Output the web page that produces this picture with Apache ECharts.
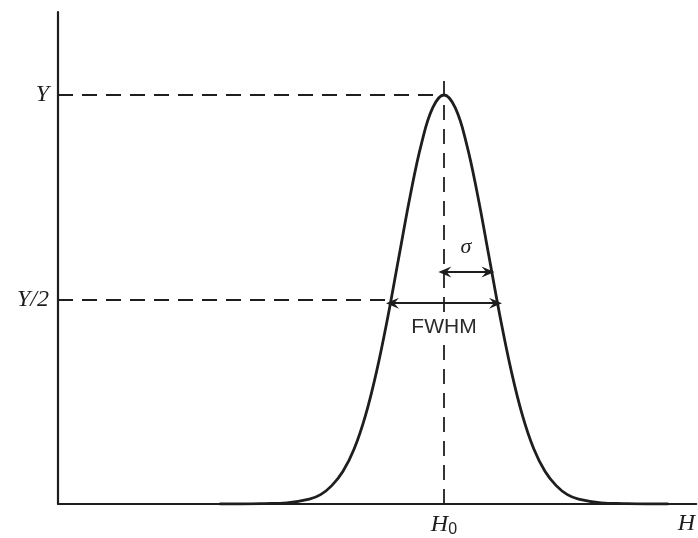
<!DOCTYPE html>
<html>
<head>
<meta charset="utf-8">
<style>
  html, body { margin: 0; padding: 0; background: #fff; }
  #chart { width: 698px; height: 538px; }
</style>
<script src="https://cdn.jsdelivr.net/npm/echarts@6/dist/echarts.min.js"></script>
</head>
<body>
<div id="chart"></div>
<script>
// Field H measured in units of sigma from the line centre H0 (H0 = 0).
const hValues = [-5.0, -4.5, -4.0, -3.5, -3.0, -2.75, -2.5, -2.25, -2.0, -1.75, -1.5, -1.25,
  -1.0, -0.75, -0.5, -0.25, 0, 0.25, 0.5, 0.75, 1.0, 1.25, 1.5, 1.75, 2.0, 2.25, 2.5, 2.75,
  3.0, 3.5, 4.0, 4.5, 5.0];
// Absorption signal relative to the peak height Y.
const signal = [0, 0, 0.001, 0.003, 0.012, 0.023, 0.045, 0.08, 0.135, 0.216, 0.325, 0.458,
  0.607, 0.755, 0.882, 0.969, 1.0, 0.969, 0.882, 0.755, 0.607, 0.458, 0.325, 0.216,
  0.135, 0.08, 0.045, 0.023, 0.012, 0.003, 0.001, 0, 0];

// Levels and widths marked on the plot.
const peakLevel = 1.0;          // Y
const halfLevel = 0.5;          // Y/2
const halfWidth = 1.1774;       // half of the FWHM, in sigma
const sigmaWidth = 1.0;         // sigma
const yTickValues = [0.5, 1.0];
const yTickLabels = ['Y/2', 'Y'];
const xTickValues = [0, 5.4];
const xTickLabels = ['{i|H}{s|0}', '{i|H}'];

const ink = '#1e1e1e';
const dash = [15, 9];
const arrowHead = 'path://M5,0 L10,11 L5,7 L0,11 Z';

const chart = echarts.init(document.getElementById('chart'), null, { renderer: 'canvas' });

chart.setOption({
  animation: false,
  backgroundColor: '#ffffff',
  grid: { left: 58, right: 0, top: 12, bottom: 34, containLabel: false },
  xAxis: {
    type: 'value', min: -8.6, max: 5.62,
    splitLine: { show: false },
    axisLine: { show: true, onZero: false, lineStyle: { color: ink, width: 2.2 } },
    axisTick: { show: false },
    axisLabel: {
      customValues: xTickValues,
      margin: 8,
      formatter: function (v) {
        const i = xTickValues.findIndex(function (t) { return Math.abs(t - v) < 1e-6; });
        return i >= 0 ? xTickLabels[i] : '';
      },
      rich: {
        i: { fontFamily: 'Liberation Serif', fontStyle: 'italic', fontSize: 24, color: ink },
        s: { fontFamily: 'Liberation Sans', fontSize: 16, color: ink, padding: [10, 0, 0, 0] }
      }
    }
  },
  yAxis: {
    type: 'value', min: 0, max: 1.203,
    splitLine: { show: false },
    axisLine: { show: true, onZero: false, lineStyle: { color: ink, width: 2.2 } },
    axisTick: { show: false },
    axisLabel: {
      customValues: yTickValues,
      margin: 9,
      fontFamily: 'Liberation Serif', fontStyle: 'italic', fontSize: 24, color: ink,
      formatter: function (v) {
        const i = yTickValues.findIndex(function (t) { return Math.abs(t - v) < 1e-6; });
        return i >= 0 ? yTickLabels[i] : '';
      }
    }
  },
  series: [
    {
      name: 'line',
      type: 'line',
      data: hValues.map(function (h, i) { return [h, signal[i]]; }),
      smooth: 0.4,
      showSymbol: false,
      lineStyle: { color: ink, width: 2.8 },
      z: 5
    },
    {
      // dashed guides: peak level, half level and the centre line
      name: 'guides',
      type: 'line',
      data: [],
      markLine: {
        silent: true,
        symbol: ['none', 'none'],
        label: { show: false },
        lineStyle: { color: ink, width: 1.8, type: dash },
        data: [
          [{ coord: [-8.6, peakLevel] }, { coord: [0, peakLevel] }],
          [{ coord: [-8.6, halfLevel] }, { coord: [-halfWidth, halfLevel] }],
          [{ coord: [0, 0] }, { coord: [0, 1.04] }]
        ]
      }
    },
    {
      // double-headed width arrows
      name: 'widths',
      type: 'line',
      data: [],
      markLine: {
        silent: true,
        symbol: [arrowHead, arrowHead],
        symbolSize: [11, 13],
        label: { show: false },
        lineStyle: { color: ink, width: 2, type: 'solid' },
        itemStyle: { color: ink },
        data: [
          [{ coord: [-halfWidth + 0.03, 0.491] }, { coord: [halfWidth - 0.03, 0.491] }],
          [{ coord: [0.02, 0.567] }, { coord: [sigmaWidth - 0.02, 0.567] }]
        ]
      }
    },
    {
      name: 'labels',
      type: 'scatter',
      symbolSize: 0,
      silent: true,
      z: 10,
      itemStyle: { color: ink, opacity: 1 },
      data: [
        { value: [0.49, 0.628], label: { formatter: 'σ', fontFamily: 'Liberation Serif', fontStyle: 'italic', fontSize: 22, color: '#222' } },
        { value: [0, 0.433], label: { formatter: 'FWHM', fontFamily: 'Liberation Sans', fontSize: 21, color: '#2a2a2a', backgroundColor: '#ffffff', padding: [3, 2, 5, 2] } }
      ],
      label: { show: true, position: 'inside', color: '#222', textBorderWidth: 0, opacity: 1 }
    }
  ]
});
</script>
</body>
</html>
